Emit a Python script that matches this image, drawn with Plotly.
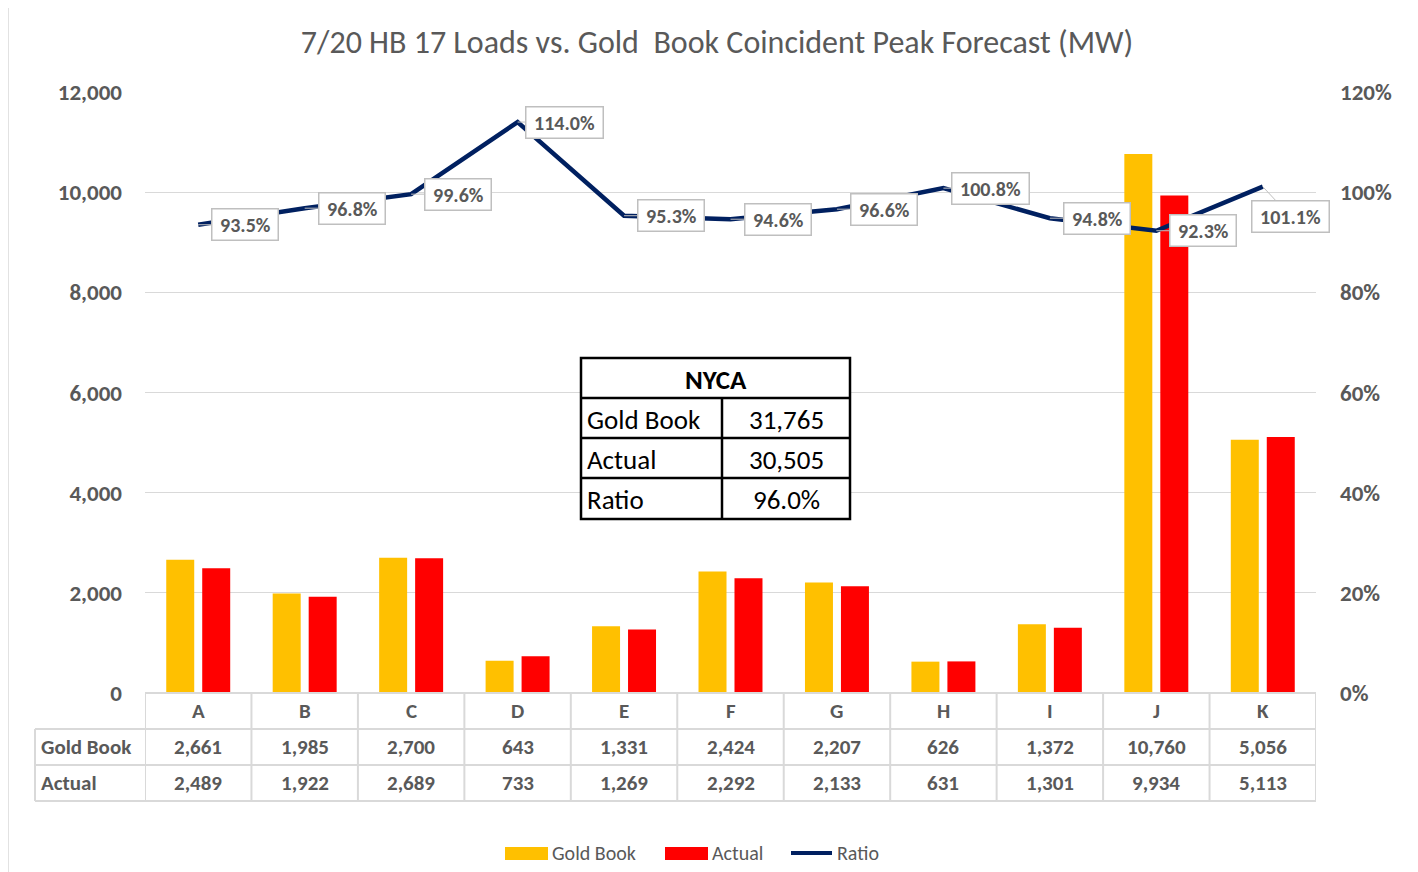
import plotly.graph_objects as go

# ---------------- data ----------------
categories = ["A", "B", "C", "D", "E", "F", "G", "H", "I", "J", "K"]
gold_book = [2661, 1985, 2700, 643, 1331, 2424, 2207, 626, 1372, 10760, 5056]
actual = [2489, 1922, 2689, 733, 1269, 2292, 2133, 631, 1301, 9934, 5113]
ratio = [0.935, 0.968, 0.996, 1.140, 0.953, 0.946, 0.966, 1.008, 0.948, 0.923, 1.011]
nyca_labels = ["Gold Book", "Actual", "Ratio"]
nyca_values = ["31,765", "30,505", "96.0%"]
table_row_labels = ["Gold Book", "Actual"]
title_text = "7/20 HB 17 Loads vs. Gold  Book Coincident Peak Forecast (MW)"

# ---------------- layout geometry (page has an 8px body margin) ----------------
OFF = 8
W, H = 1418 - OFF, 872 - OFF
L, R, T, B = 145 - OFF, 1316 - OFF, 92 - OFF, 693 - OFF
PW, PH = R - L, B - T


def px(x):  # screen x -> paper
    return (x - OFF - L) / PW


def py(y):  # screen y -> paper
    return (B - (y - OFF)) / PH


FONT = "Carlito, Calibri, Lato, sans-serif"
GREY = "#595959"
LINE = "#d9d9d9"
GOLD = "#FFC000"
RED = "#FF0000"
NAVY = "#002060"
NB = "\u00a0"

fig = go.Figure()
fig.add_trace(go.Bar(x=categories, y=gold_book, name="Gold Book", marker_color=GOLD,
                     marker_line_width=0, showlegend=False))
fig.add_trace(go.Bar(x=categories, y=actual, name="Actual", marker_color=RED,
                     marker_line_width=0, showlegend=False))
fig.add_trace(go.Scatter(x=categories, y=ratio, name="Ratio", yaxis="y2", mode="lines",
                         line=dict(color=NAVY, width=4.5), showlegend=False))

shapes = []
annotations = []

# outer chart border
shapes.append(dict(type="rect", xref="paper", yref="paper", x0=px(8), x1=px(1440),
                   y0=py(895), y1=py(3), line=dict(color=LINE, width=1.5), layer="below"))

# ratio data labels
offsets = [(47, 0)] * 10 + [(28, 30)]
for c, r, (ax, ay) in zip(categories, ratio, offsets):
    annotations.append(dict(x=c, y=r, xref="x", yref="y2",
                            text=f"<b>{NB}{r*100:.1f}%{NB}</b>",
                            showarrow=True, ax=ax, ay=ay, arrowhead=0, arrowwidth=1,
                            arrowcolor="#bfbfbf", bgcolor="white", bordercolor="#bfbfbf",
                            borderwidth=1.5, borderpad=3,
                            font=dict(family=FONT, size=20, color=GREY)))

# data table below the plot
row_tops = [693, 729, 765, 801]
n = len(categories)
shapes.append(dict(type="line", xref="paper", yref="paper", x0=px(145), x1=px(1316),
                   y0=py(693), y1=py(693), line=dict(color=LINE, width=2)))
for yy in row_tops[1:]:
    shapes.append(dict(type="line", xref="paper", yref="paper", x0=px(35), x1=px(1316),
                       y0=py(yy), y1=py(yy), line=dict(color=LINE, width=2)))
for i in range(n + 1):
    shapes.append(dict(type="line", xref="x", yref="paper", x0=i - 0.5, x1=i - 0.5,
                       y0=py(693), y1=py(801), line=dict(color=LINE, width=2)))
shapes.append(dict(type="line", xref="paper", yref="paper", x0=px(35), x1=px(35),
                   y0=py(729), y1=py(801), line=dict(color=LINE, width=2)))

tfont = dict(family=FONT, size=21, color=GREY)
for c, g, a in zip(categories, gold_book, actual):
    for txt, yy in [(c, 711), (f"{g:,}", 747), (f"{a:,}", 783)]:
        annotations.append(dict(x=c, y=py(yy), xref="x", yref="paper", text=f"<b>{txt}</b>",
                                showarrow=False, xanchor="center", yanchor="middle",
                                font=tfont))
for label, yy in zip(table_row_labels, [747, 783]):
    annotations.append(dict(x=px(39), y=py(yy), xref="paper", yref="paper",
                            text=f"<b>{label}</b>", showarrow=False, xanchor="left",
                            yanchor="middle", font=tfont))

# NYCA summary box
bx0, bx1, bxm = 581, 850, 722
by = [358, 398, 438, 478, 519]
shapes.append(dict(type="rect", xref="paper", yref="paper", x0=px(bx0), x1=px(bx1),
                   y0=py(by[-1]), y1=py(by[0]), fillcolor="white",
                   line=dict(color="black", width=2.5)))
for yy in by[1:-1]:
    shapes.append(dict(type="line", xref="paper", yref="paper", x0=px(bx0), x1=px(bx1),
                       y0=py(yy), y1=py(yy), line=dict(color="black", width=2.5)))
shapes.append(dict(type="line", xref="paper", yref="paper", x0=px(bxm), x1=px(bxm),
                   y0=py(by[1]), y1=py(by[-1]), line=dict(color="black", width=2.5)))
bfont = dict(family=FONT, size=27, color="black")
annotations.append(dict(x=px((bx0 + bx1) / 2), y=py((by[0] + by[1]) / 2 + 1), xref="paper",
                        yref="paper", text="<b>NYCA</b>", showarrow=False,
                        xanchor="center", yanchor="middle", font=bfont))
for i, (lab, val) in enumerate(zip(nyca_labels, nyca_values)):
    yc = (by[i + 1] + by[i + 2]) / 2 + 1
    annotations.append(dict(x=px(bx0 + 4), y=py(yc), xref="paper", yref="paper", text=lab,
                            showarrow=False, xanchor="left", yanchor="middle", font=bfont))
    annotations.append(dict(x=px((bxm + bx1) / 2), y=py(yc), xref="paper", yref="paper",
                            text=val, showarrow=False, xanchor="center", yanchor="middle",
                            font=bfont))

# custom legend
lfont = dict(family=FONT, size=20, color=GREY)
for name, color, x0 in [("Gold Book", GOLD, 505), ("Actual", RED, 665)]:
    shapes.append(dict(type="rect", xref="paper", yref="paper", x0=px(x0), x1=px(x0 + 43),
                       y0=py(860), y1=py(847), fillcolor=color, line=dict(width=0)))
    annotations.append(dict(x=px(x0 + 45), y=py(853), xref="paper", yref="paper", text=name,
                            showarrow=False, xanchor="left", yanchor="middle", font=lfont))
shapes.append(dict(type="line", xref="paper", yref="paper", x0=px(791), x1=px(832),
                   y0=py(853), y1=py(853), line=dict(color=NAVY, width=4)))
annotations.append(dict(x=px(835), y=py(853), xref="paper", yref="paper", text="Ratio",
                        showarrow=False, xanchor="left", yanchor="middle", font=lfont))

fig.update_layout(
    width=W, height=H,
    margin=dict(l=L, r=W - R, t=T, b=H - B, pad=0),
    paper_bgcolor="white", plot_bgcolor="white",
    title=dict(text=title_text, x=(717 - OFF) / W, xanchor="center",
               y=1 - (42 - OFF) / H, yanchor="middle",
               font=dict(family=FONT, size=32, color=GREY)),
    barmode="group", bargap=0.324, bargroupgap=0.222,
    showlegend=False,
    xaxis=dict(type="category", range=[-0.5, n - 0.5], showticklabels=False,
               showgrid=False, zeroline=False, showline=False, ticks=""),
    yaxis=dict(range=[0, 12000], dtick=2000, tickformat=",", showgrid=True,
               gridcolor=LINE, gridwidth=1, zeroline=False, showline=False, ticks="",
               ticklabelstandoff=22,
               tickfont=dict(family=FONT, size=23, color=GREY, weight="bold")),
    yaxis2=dict(range=[0, 1.2], dtick=0.2, tickformat=".0%", overlaying="y", side="right",
                showgrid=False, zeroline=False, showline=False, ticks="",
                ticklabelstandoff=23,
                tickfont=dict(family=FONT, size=23, color=GREY, weight="bold")),
    shapes=shapes,
    annotations=annotations,
)

fig.write_html("out.html")
